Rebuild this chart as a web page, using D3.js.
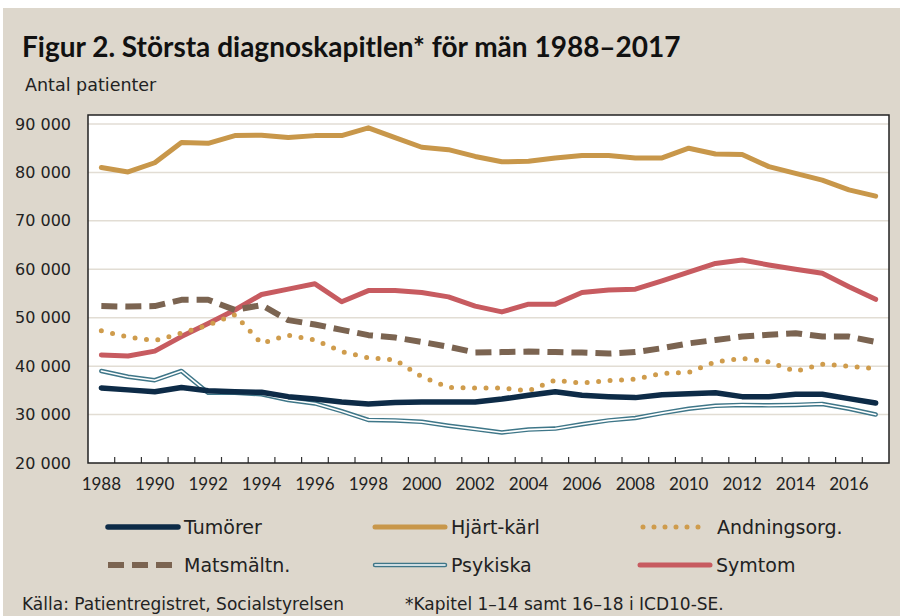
<!DOCTYPE html>
<html>
<head>
<meta charset="utf-8">
<script src="https://cdn.jsdelivr.net/npm/d3@7"></script>
<style>
  body { margin: 0; background: #fff; }
  svg { display: block; font-family: "DejaVu Sans", sans-serif; }
</style>
</head>
<body>
<svg id="chart" width="900" height="616"></svg>
<script>
// data
var years = d3.range(1988, 2018);
var yTicks = [20000, 30000, 40000, 50000, 60000, 70000, 80000, 90000];

var tumorer = [35500, 35100, 34700, 35600, 34900, 34700, 34600, 33700, 33200, 32600,
    32200, 32500, 32600, 32600, 32600, 33200, 34000, 34700, 34000, 33700,
    33500, 34100, 34300, 34500, 33700, 33700, 34200, 34200, 33300, 32400];
var hjartkarl = [81000, 80100, 82000, 86200, 86000, 87600, 87700, 87200, 87600, 87600,
    89200, 87200, 85200, 84700, 83300, 82200, 82300, 83000, 83500, 83500,
    83000, 83000, 85000, 83800, 83700, 81200, 79800, 78400, 76400, 75100];
var andning = [47300, 46000, 45300, 46800, 48500, 50600, 44700, 46400, 45400, 43000,
    41700, 41300, 37800, 35600, 35500, 35500, 34900, 37100, 36500, 37000,
    37300, 38500, 38700, 40900, 41600, 40900, 38900, 40400, 40000, 39500];
var matsmaltn = [52400, 52300, 52400, 53700, 53700, 51600, 52600, 49500, 48600, 47500,
    46400, 45900, 45000, 44000, 42800, 42900, 43000, 42900, 42800, 42600,
    42900, 43700, 44700, 45400, 46100, 46500, 46800, 46100, 46100, 45000];
var psykiska = [39000, 37800, 37100, 39000, 34500, 34500, 34200, 33000, 32300, 30700,
    28900, 28800, 28500, 27700, 27000, 26300, 26900, 27100, 28000, 28800,
    29300, 30300, 31200, 31800, 32000, 31900, 32000, 32200, 31200, 30000];
var symtom = [42300, 42100, 43100, 46100, 48800, 51600, 54800, 55900, 57000, 53300,
    55600, 55600, 55200, 54300, 52400, 51200, 52800, 52800, 55200, 55700,
    55900, 57600, 59400, 61200, 61900, 60900, 60000, 59200, 56400, 53800];

var series = [
    { name: "Tumörer", values: tumorer, color: "#0d2b47", type: "solid", width: 5.5 },
    { name: "Hjärt-kärl", values: hjartkarl, color: "#c8974a", type: "solid", width: 5 },
    { name: "Andningsorg.", values: andning, color: "#cf9c4c", type: "dot", width: 5 },
    { name: "Matsmältn.", values: matsmaltn, color: "#7b6451", type: "dash", width: 6 },
    { name: "Psykiska", values: psykiska, color: "#3e7688", type: "double", width: 4.5 },
    { name: "Symtom", values: symtom, color: "#c75b60", type: "solid", width: 5 }
];
// drawing order (back to front)
var drawOrder = ["Hjärt-kärl", "Symtom", "Matsmältn.", "Andningsorg.", "Psykiska", "Tumörer"];

var svg = d3.select("#chart");
var plot = { left: 88, right: 889, top: 115, bottom: 463 };

var locale = d3.formatLocale({ decimal: ",", thousands: "\u00a0", grouping: [3], currency: ["", " kr"] });
var fmt = locale.format(",d");

// background
svg.append("rect").attr("x", 3).attr("y", 8).attr("width", 897).attr("height", 608)
    .attr("fill", "#ddd7cc");

svg.append("text").attr("x", 22).attr("y", 57)
    .attr("font-size", 28).attr("font-weight", "bold").attr("fill", "#111")
    .attr("font-family", "Lato, sans-serif")
    .text("Figur 2. Största diagnoskapitlen* för män 1988–2017");
svg.append("text").attr("x", 25).attr("y", 91)
    .attr("font-size", 17.5).attr("fill", "#222")
    .text("Antal patienter");

var x = d3.scaleBand().domain(years).range([plot.left, plot.right]);
var y = d3.scaleLinear().domain([20000, 90000]).range([plot.bottom, 124]);

svg.append("rect")
    .attr("x", plot.left).attr("y", plot.top)
    .attr("width", plot.right - plot.left).attr("height", plot.bottom - plot.top)
    .attr("fill", "#fff");

// gridlines
svg.append("g")
    .selectAll("line")
    .data(yTicks.slice(1))
    .enter()
    .append("line")
    .attr("x1", plot.left).attr("x2", plot.right)
    .attr("y1", function (d) { return y(d); })
    .attr("y2", function (d) { return y(d); })
    .attr("stroke", "#e2ddd4").attr("stroke-width", 1.5);

// y labels
var yAxis = d3.axisLeft(y).tickValues(yTicks).tickFormat(fmt).tickSize(0).tickPadding(17);
var yg = svg.append("g").attr("transform", "translate(" + plot.left + ",0)").call(yAxis);
yg.select(".domain").remove();
yg.selectAll("text").attr("font-size", 16).attr("fill", "#222")
    .attr("font-family", "DejaVu Sans, sans-serif");

// x labels (every other year) and tick marks between years
var xAxis = d3.axisBottom(x).tickValues(years.filter(function (d) { return d % 2 === 0; }))
    .tickSize(0).tickPadding(15);
var xg = svg.append("g").attr("transform", "translate(0," + plot.bottom + ")").call(xAxis);
xg.select(".domain").remove();
xg.selectAll("text").attr("font-size", 17).attr("fill", "#222").attr("font-family", "Lato, sans-serif");

svg.append("g")
    .selectAll("line")
    .data(years.slice(1))
    .enter()
    .append("line")
    .attr("x1", function (d) { return x(d); })
    .attr("x2", function (d) { return x(d); })
    .attr("y1", plot.bottom).attr("y2", plot.bottom - 6)
    .attr("stroke", "#333").attr("stroke-width", 1.2);

var line = d3.line()
    .x(function (d, i) { return x(years[i]) + x.bandwidth() / 2; })
    .y(function (d) { return y(d); });

function styleLine(sel, s) {
    sel.attr("fill", "none").attr("stroke", s.color).attr("stroke-width", s.width)
        .attr("stroke-linejoin", "round");
    if (s.type === "dot") {
        sel.attr("stroke-dasharray", "0,11.5").attr("stroke-linecap", "round");
    } else if (s.type === "dash") {
        sel.attr("stroke-dasharray", "16,8");
    } else {
        sel.attr("stroke-linecap", "round");
    }
}

var g = svg.append("g");
drawOrder.forEach(function (name) {
    var s = series.find(function (d) { return d.name === name; });
    var p = g.append("path").attr("d", line(s.values));
    styleLine(p, s);
    if (s.type === "double") {
        g.append("path").attr("d", line(s.values))
            .attr("fill", "none").attr("stroke", "#fff").attr("stroke-width", 1.6)
            .attr("stroke-linejoin", "round").attr("stroke-linecap", "round");
    }
});

// frame
svg.append("path")
    .attr("d", "M" + plot.left + "," + plot.bottom + "V" + plot.top + "H" + plot.right + "V" + plot.bottom + "Z")
    .attr("fill", "none").attr("stroke", "#222").attr("stroke-width", 1.5);

// legend
var legendCols = [108, 375, 640];
var legendRows = [527, 565];
var legend = svg.append("g");
series.forEach(function (s, i) {
    var lx = legendCols[i % 3], ly = legendRows[Math.floor(i / 3)];
    var seg = legend.append("path").attr("d", "M" + lx + "," + ly + "H" + (lx + 70));
    styleLine(seg, s);
    if (s.type === "dot") seg.attr("stroke-dasharray", "0,11").attr("d", "M" + (lx + 3) + "," + ly + "H" + (lx + 65));
    if (s.type === "double") {
        legend.append("path").attr("d", "M" + lx + "," + ly + "H" + (lx + 70))
            .attr("fill", "none").attr("stroke", "#fff").attr("stroke-width", 1.6).attr("stroke-linecap", "round");
    }
    legend.append("text").attr("x", lx + (s.type === "dot" ? 77 : 76)).attr("y", ly + 7)
        .attr("font-size", 19).attr("fill", "#222").text(s.name);
});

svg.append("text").attr("x", 22).attr("y", 610).attr("font-size", 17).attr("fill", "#222")
    .text("Källa: Patientregistret, Socialstyrelsen");
svg.append("text").attr("x", 405).attr("y", 610).attr("font-size", 17).attr("fill", "#222")
    .text("*Kapitel 1–14 samt 16–18 i ICD10-SE.");
</script>
</body>
</html>
